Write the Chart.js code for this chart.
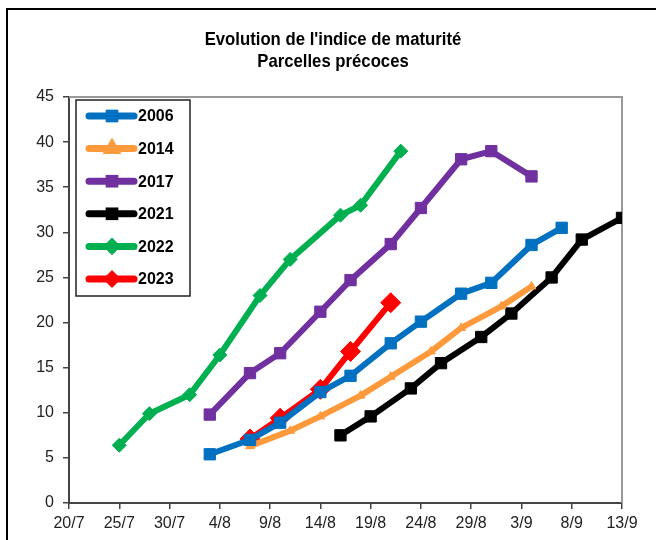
<!DOCTYPE html>
<html>
<head>
<meta charset="utf-8">
<script src="https://cdn.jsdelivr.net/npm/chart.js@4"></script>
<style>
  html, body { margin: 0; padding: 0; background: #fff; }
  canvas { display: block; }
</style>
</head>
<body>
<canvas id="chart" width="656" height="540"></canvas>
<script>
// data (dates are day/month)
const years = ["2006", "2014", "2017", "2021", "2022", "2023"];

const dates2006 = ["3/8", "7/8", "10/8", "14/8", "17/8", "21/8", "24/8", "28/8", "31/8", "4/9", "7/9"];
const values2006 = [5.4, 7.0, 8.9, 12.3, 14.1, 17.7, 20.1, 23.2, 24.4, 28.6, 30.5];

const dates2014 = ["7/8", "11/8", "14/8", "18/8", "21/8", "25/8", "28/8", "1/9", "4/9"];
const values2014 = [6.3, 8.0, 9.6, 11.9, 14.0, 16.8, 19.4, 21.8, 24.0];

const dates2017 = ["3/8", "7/8", "10/8", "14/8", "17/8", "21/8", "24/8", "28/8", "31/8", "4/9"];
const values2017 = [9.8, 14.4, 16.6, 21.2, 24.7, 28.7, 32.7, 38.1, 39.0, 36.2];

const dates2021 = ["16/8", "19/8", "23/8", "26/8", "30/8", "2/9", "6/9", "9/9", "13/9"];
const values2021 = [7.5, 9.6, 12.7, 15.5, 18.4, 21.0, 25.0, 29.2, 31.6];

const dates2022 = ["25/7", "28/7", "1/8", "4/8", "8/8", "11/8", "16/8", "18/8", "22/8"];
const values2022 = [6.4, 9.9, 12.0, 16.4, 23.0, 27.0, 31.9, 33.0, 39.0];

const dates2023 = ["7/8", "10/8", "14/8", "17/8", "21/8"];
const values2023 = [7.1, 9.4, 12.6, 16.8, 22.2];

const xTickLabels = ["20/7", "25/7", "30/7", "4/8", "9/8", "14/8", "19/8", "24/8", "29/8", "3/9", "8/9", "13/9"];
const yTicks = [0, 5, 10, 15, 20, 25, 30, 35, 40, 45];

// days counted from 20/7
const dayOf = (s) => {
    const [d, m] = s.split("/").map(Number);
    if (m === 7) return d - 20;
    if (m === 8) return d + 11;
    return d + 42;
};
const toPoints = (dates, values) => dates.map((d, i) => ({ x: dayOf(d), y: values[i] }));

const font = "'Liberation Sans', Arial, sans-serif";

const series = [
    { data: toPoints(dates2006, values2006), color: "#0070C0", style: "rect", r: 8 },
    { data: toPoints(dates2014, values2014), color: "#FF9A3C", style: "triangle", r: 5 },
    { data: toPoints(dates2017, values2017), color: "#7030A0", style: "rect", r: 8 },
    { data: toPoints(dates2021, values2021), color: "#000000", style: "rect", r: 8 },
    { data: toPoints(dates2022, values2022), color: "#00B050", style: "rectRot", r: 7 },
    { data: toPoints(dates2023, values2023), color: "#FF0000", style: "rectRot", r: 10 }
];

// white background, outer frame, plot border, title, legend
const decor = {
    id: "decor",
    beforeDraw(chart) {
        const c = chart.ctx;
        c.save();
        c.fillStyle = "#fff";
        c.fillRect(0, 0, chart.width, chart.height);
        c.strokeStyle = "#000";
        c.lineWidth = 2;
        c.beginPath();
        c.moveTo(7, chart.height);
        c.lineTo(7, 9);
        c.lineTo(chart.width, 9);
        c.stroke();
        c.fillStyle = "#000";
        c.font = "bold 19px " + font;
        c.textAlign = "center";
        c.textBaseline = "middle";
        c.translate(333, 0);
        c.scale(0.88, 1);
        c.fillText("Evolution de l'indice de maturité", 0, 40);
        c.fillText("Parcelles précoces", 0, 62);
        c.restore();
    },
    beforeDatasetsDraw(chart) {
        const a = chart.chartArea;
        const c = chart.ctx;
        c.save();
        c.strokeStyle = "#999";
        c.lineWidth = 2;
        c.beginPath();
        c.moveTo(a.left, a.top);
        c.lineTo(a.right, a.top);
        c.lineTo(a.right, a.bottom);
        c.stroke();
        c.restore();
    },
    afterDatasetsDraw(chart) {
        const c = chart.ctx;
        c.save();
        c.fillStyle = "#fff";
        c.fillRect(76, 100, 114, 196);
        c.strokeStyle = "#222";
        c.lineWidth = 1.5;
        c.strokeRect(76, 100, 114, 196);
        chart.data.datasets.forEach((ds, i) => {
            const y = 116 + i * 32.6;
            c.strokeStyle = ds.borderColor;
            c.lineWidth = 7;
            c.lineCap = "round";
            c.beginPath();
            c.moveTo(89, y);
            c.lineTo(134, y);
            c.stroke();
            c.fillStyle = ds.borderColor;
            Chart.helpers.drawPoint(c, { pointStyle: ds.pointStyle, radius: 4, borderWidth: 1 }, 112, y);
            c.fillStyle = "#000";
            c.font = "bold 16px " + font;
            c.textAlign = "left";
            c.textBaseline = "middle";
            c.fillText(ds.label, 138, y + 1);
        });
        c.restore();
    }
};

new Chart(document.getElementById("chart"), {
    type: "line",
    data: {
        datasets: series.map((s, i) => ({
            label: years[i],
            data: s.data,
            borderColor: s.color,
            backgroundColor: s.color,
            pointBackgroundColor: s.color,
            pointBorderColor: s.color,
            borderWidth: 6,
            pointStyle: s.style,
            pointRadius: s.r,
            pointBorderWidth: 1,
            tension: 0
        }))
    },
    options: {
        responsive: false,
        devicePixelRatio: 1,
        animation: false,
        layout: { padding: { top: 97, right: 34, bottom: 0, left: 0 } },
        plugins: {
            legend: { display: false },
            title: { display: false },
            tooltip: { enabled: false }
        },
        scales: {
            x: {
                type: "linear",
                min: 0,
                max: 55,
                afterFit: (s) => { s.height = 37; },
                afterBuildTicks: (s) => { s.ticks = xTickLabels.map((t, i) => ({ value: i * 5 })); },
                ticks: {
                    callback: (v, i) => xTickLabels[i],
                    color: "#222",
                    font: { family: font, size: 16 },
                    padding: 5,
                    maxRotation: 0,
                    autoSkip: false
                },
                grid: { drawOnChartArea: false, tickLength: 6, color: "#444", lineWidth: 1.5 },
                border: { color: "#444", width: 2 }
            },
            y: {
                min: 0,
                max: 45,
                afterFit: (s) => { s.width = 69; },
                afterBuildTicks: (s) => { s.ticks = yTicks.map((v) => ({ value: v })); },
                ticks: {
                    color: "#222",
                    font: { family: font, size: 16 },
                    padding: 9
                },
                grid: { drawOnChartArea: false, tickLength: 6, color: "#444", lineWidth: 1.5 },
                border: { color: "#444", width: 2 }
            }
        }
    },
    plugins: [decor]
});
</script>
</body>
</html>
